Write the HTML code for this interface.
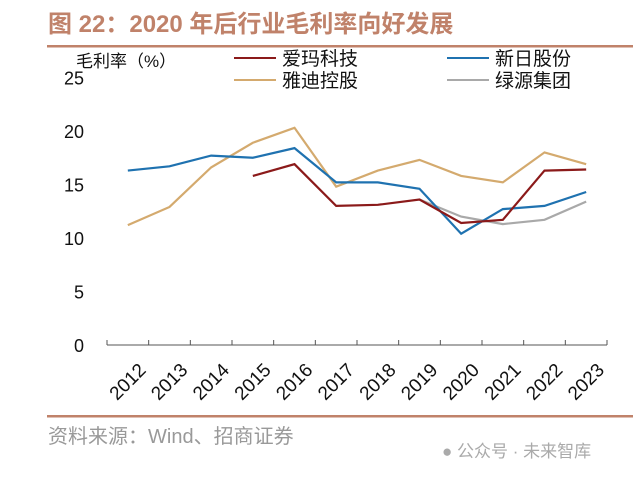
<!DOCTYPE html>
<html><head><meta charset="utf-8"><style>
body{margin:0;background:#fff;width:640px;height:477px;overflow:hidden;font-family:"Liberation Sans","Noto Sans CJK SC",sans-serif}
</style></head><body>
<svg width="640" height="477" font-family="Liberation Sans, Noto Sans CJK SC, sans-serif">
<text x="48" y="32" font-size="24" font-weight="bold" fill="#c0826a">图 22：2020 年后行业毛利率向好发展</text>
<rect x="47" y="45" width="586" height="2.5" fill="#c0826a"/>
<text x="76" y="67" font-size="17" fill="#111">毛利率（%）</text>
<g id="legend"></g>
<g id="yaxis"></g>
<g id="xaxis"></g>
<g id="plot"></g>
<rect x="47" y="415" width="586" height="2.5" fill="#c0826a"/>
<text x="48" y="443" font-size="20" fill="#999">资料来源：Wind、招商证券</text>
<text x="442" y="457" font-size="17" fill="#aaa">● 公众号 · 未来智库</text>
</svg>
<script>
const years=["2012","2013","2014","2015","2016","2017","2018","2019","2020","2021","2022","2023"];
const yTicks=[0,5,10,15,20,25];
const aima=[null,null,null,15.8,16.9,13.0,13.1,13.6,11.4,11.7,16.3,16.4];
const xinri=[16.3,16.7,17.7,17.5,18.4,15.2,15.2,14.6,10.4,12.7,13.0,14.3];
const yadi=[11.2,12.9,16.6,18.9,20.3,14.8,16.3,17.3,15.8,15.2,18.0,16.9];
const lvyuan=[null,null,null,null,null,null,null,13.6,12.0,11.3,11.7,13.4];
const NS="http://www.w3.org/2000/svg";
const x0=107,x1=607,y0=345,k=10.7;
const band=(x1-x0)/years.length;
const xs=i=>x0+band*(i+0.5), ys=v=>y0-v*k;
function mk(t,a,p){const e=document.createElementNS(NS,t);for(const n in a)e.setAttribute(n,a[n]);(p||document.getElementById('plot')).appendChild(e);return e;}
const ya=document.getElementById('yaxis');
yTicks.forEach(v=>{const t=mk('text',{x:84,y:ys(v)+7,'font-size':18,'text-anchor':'end',fill:'#111'},ya);t.textContent=v;

});
const xa=document.getElementById('xaxis');
const ax=mk('line',{x1:x0,x2:x1,y1:y0,y2:y0,stroke:'#555','stroke-width':1},xa);


for(let i=0;i<=years.length;i++){const tk=mk('line',{x1:x0+band*i,x2:x0+band*i,y1:y0,y2:y0-5,stroke:'#555'},xa);

}
years.forEach((y,i)=>{const cx=xs(i)+10,cy=y0+17;const t=mk('text',{x:cx,y:cy,'font-size':19,'text-anchor':'end',fill:'#111',transform:`rotate(-45 ${cx} ${cy}) translate(0 13)`},xa);t.textContent=y;

});
function series(d,c,name){let segs=[],cur=[];d.forEach((v,i)=>{if(v==null){if(cur.length)segs.push(cur);cur=[];}else cur.push(xs(i)+','+ys(v));});if(cur.length)segs.push(cur);
segs.forEach(s=>{const p=mk('polyline',{points:s.join(' '),fill:'none',stroke:c,'stroke-width':2.2});

});}
series(yadi,'#d4aa6e','series-yadi');
series(lvyuan,'#a9a9a9','series-lvyuan');
series(xinri,'#1f72b0','series-xinri');
series(aima,'#8b1a1a','series-aima');
const lg=document.getElementById('legend');
[["爱玛科技",'#8b1a1a',234,58],["新日股份",'#1f72b0',447,58],["雅迪控股",'#d4aa6e',234,80],["绿源集团",'#a9a9a9',447,80]].forEach(([n,c,x,y])=>{
const l=mk('line',{x1:x,x2:x+42,y1:y,y2:y,stroke:c,'stroke-width':2},lg);


const t=mk('text',{x:x+48,y:y+7,'font-size':19,fill:'#111'},lg);t.textContent=n;

});
</script>
</body></html>
